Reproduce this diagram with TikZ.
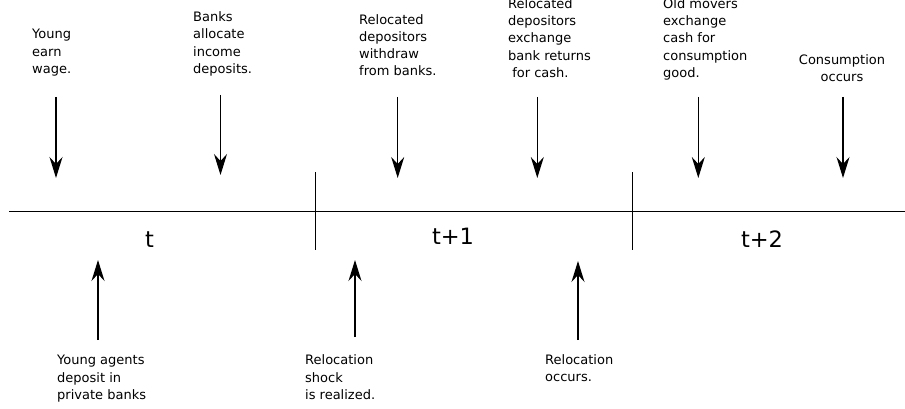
\documentclass[tikz,border=0pt]{standalone}
\usepackage{fontspec}
\setmainfont{DejaVu Sans}
\usetikzlibrary{arrows.meta}
\begin{document}
\begin{tikzpicture}[x=1pt,y=-1pt,
  note/.style={inner sep=0pt,anchor=base west,align=left,
    font=\fontsize{13pt}{17.2pt}\selectfont},
  period/.style={inner sep=0pt,anchor=base,font=\fontsize{22.5pt}{26pt}\selectfont},
  timeline/.style={line width=1.3pt},
  divider/.style={line width=1pt},
  event/.style={line width=1.2pt,-{Stealth[length=21pt,width=13pt,inset=7pt]}}]
\useasboundingbox (0,0) rectangle (905,409);

% time axis and period boundaries
\coordinate (axL) at (9,211.5);
\coordinate (axR) at (905,211.5);
\draw[timeline] (axL) -- (axR);
\coordinate (d1t) at (315.7,172);
\coordinate (d1b) at (315.7,250);
\coordinate (d2t) at (632.3,172);
\coordinate (d2b) at (632.3,250);
\draw[divider] (d1t) -- (d1b);
\draw[divider] (d2t) -- (d2b);

% period labels
\node[period] (pt)  at (149.5,247) {t};
\node[period] (pt1) at (453,244) {t+1};
\node[period] (pt2) at (762,247.5) {t+2};

% events above the axis (anchored at the baseline of the last line)
\node[note] (wage)  at (32,73.3)  {Young\\earn\\wage.};
\node[note] (alloc) at (193,73.3) {Banks\\allocate\\income\\deposits.};
\node[note] (withd) at (359,76)   {Relocated\\depositors\\withdraw\\from banks.};
\node[note] (exch)  at (508,77.3) {Relocated\\depositors\\exchange\\bank returns\\\ for cash.};
\node[note] (oldm)  at (663,77.3) {Old movers\\exchange\\cash for\\consumption\\good.};
\node[note,anchor=base,align=center] (cons) at (842,81.7) {Consumption\\occurs};

\foreach \n/\x/\ya/\yb in {a/56/97/178, b/220.5/95/175, c/397.7/97/178,
                            d/537.3/97/178, e/698.3/97/178, f/843/97/178}{
  \coordinate (\n s) at (\x,\ya);
  \coordinate (\n e) at (\x,\yb);
  \draw[event] (\n s) -- (\n e);
}

% events below the axis
\node[note] (depo)  at (57,399.3)  {Young agents\\deposit in\\private banks};
\node[note] (shock) at (305,399.3) {Relocation\\shock\\is realized.};
\node[note] (reloc) at (545,381.7) {Relocation\\occurs.};

\foreach \n/\x/\ya/\yb in {g/98/340/260, h/355/337/260, i/578/340/261}{
  \coordinate (\n s) at (\x,\ya);
  \coordinate (\n e) at (\x,\yb);
  \draw[event] (\n s) -- (\n e);
}
\end{tikzpicture}
\end{document}
